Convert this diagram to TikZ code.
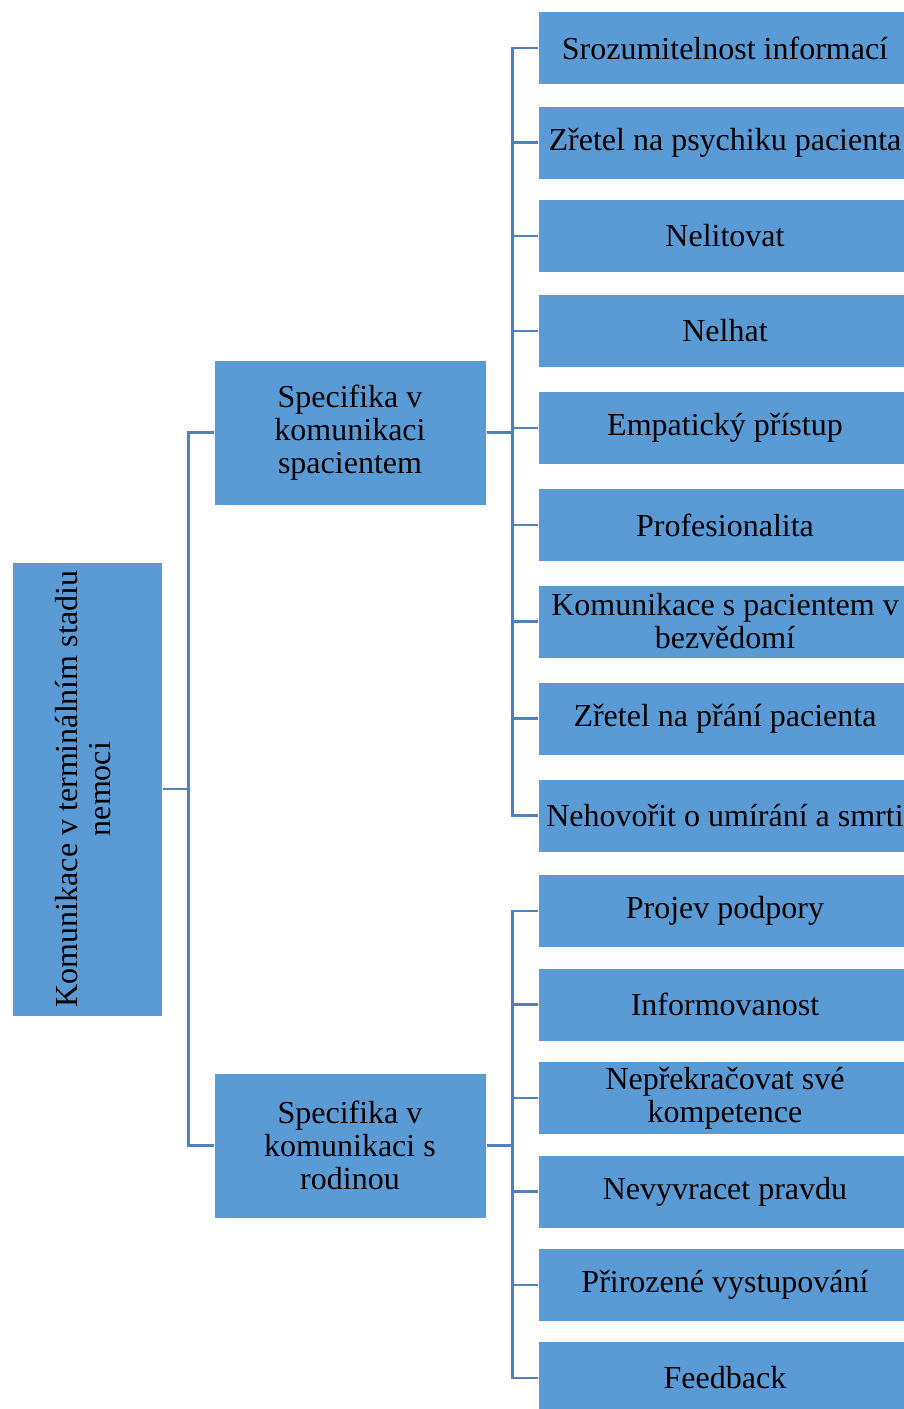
\documentclass[tikz,border=0pt]{standalone}
\usepackage{fontspec}
\setmainfont{Liberation Serif}
\usetikzlibrary{positioning}
\definecolor{boxblue}{HTML}{5B9BD5}
\definecolor{lineblue}{HTML}{4F81BD}
\begin{document}
\begin{tikzpicture}[x=1pt, y=-1pt,
  box/.style={fill=boxblue, draw=white, line width=1pt, align=center,
    inner sep=0pt, font=\fontsize{32}{33}\selectfont},
  leaf/.style={box, minimum width=374pt, minimum height=73pt},
  mid/.style={box, minimum width=272pt, minimum height=145pt},
  conn/.style={draw=lineblue, line width=2.5pt}]
  \clip (0,0) rectangle (904,1409);
  \useasboundingbox (0,0) rectangle (904,1409);
  % root
  \node[box, minimum width=150pt, minimum height=454pt] (root) at (87,789)
    {\rotatebox{90}{\begin{tabular}{c}Komunikace v terminálním stadiu\\nemoci\end{tabular}}};
  % second level
  \node[mid] (pac) at (350,432.5) {Specifika v\\komunikaci\\spacientem};
  \node[mid] (rod) at (350,1145.5) {Specifika v\\komunikaci s\\rodinou};
  % leaves, patient
  \node[leaf] (a1) at (725,48) {Srozumitelnost informací};
  \node[leaf] (a2) at (725,142.5) {Zřetel na psychiku pacienta};
  \node[leaf] (a3) at (725,236) {Nelitovat};
  \node[leaf] (a4) at (725,331) {Nelhat};
  \node[leaf] (a5) at (725,428) {Empatický přístup};
  \node[leaf] (a6) at (725,525) {Profesionalita};
  \node[leaf] (a7) at (725,621.5) {Komunikace s pacientem v\\bezvědomí};
  \node[leaf] (a8) at (725,718.5) {Zřetel na přání pacienta};
  \node[leaf] (a9) at (725,815.5) {Nehovořit o umírání a smrti};
  % leaves, family
  \node[leaf] (b1) at (725,911) {Projev podpory};
  \node[leaf] (b2) at (725,1004.5) {Informovanost};
  \node[leaf] (b3) at (725,1098) {Nepřekračovat své\\kompetence};
  \node[leaf] (b4) at (725,1191.5) {Nevyvracet pravdu};
  \node[leaf] (b5) at (725,1285) {Přirozené vystupování};
  \node[leaf] (b6) at (725,1378) {Feedback};
  % connectors
  \draw[conn] (root.east) -- ++(26,0) |- (pac.west);
  \draw[conn] (root.east) -- ++(26,0) |- (rod.west);
  \foreach \i in {1,...,9}
    \draw[conn] (pac.east) -- ++(26,0) |- (a\i.west);
  \foreach \i in {1,...,6}
    \draw[conn] (rod.east) -- ++(26,0) |- (b\i.west);
\end{tikzpicture}
\end{document}
